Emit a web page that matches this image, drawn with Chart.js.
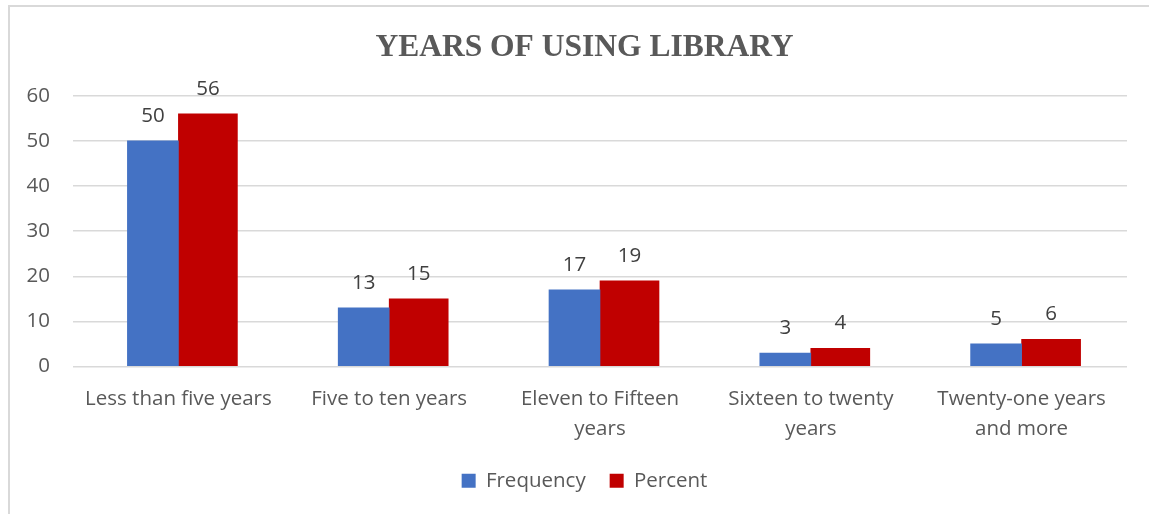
<!DOCTYPE html>
<html>
<head>
<meta charset="utf-8">
<title>Years of Using Library</title>
<script src="https://cdn.jsdelivr.net/npm/chart.js@4.4.1/dist/chart.umd.min.js"></script>
<style>
  html, body { margin: 0; padding: 0; background: #ffffff; }
  #wrap { position: relative; width: 1149px; height: 514px; }
</style>
</head>
<body>
<div id="wrap"><canvas id="chart" width="1149" height="514"></canvas></div>
<script>
// Survey: how long respondents have been using the library
const categories = [
  "Less than five years",
  ["Five to ten years"],
  ["Eleven to Fifteen", "years"],
  ["Sixteen to twenty", "years"],
  ["Twenty-one years", "and more"]
];
const frequency = [50, 13, 17, 3, 5];
const percent = [56, 15, 19, 4, 6];
const yTicks = [0, 10, 20, 30, 40, 50, 60];

const textGrey = "#595959";
const gridGrey = "#d9d9d9";
const bodyFont = "'Open Sans', 'Noto Sans', sans-serif";

// Light frame along the left and top edges of the chart
const framePlugin = {
  id: "frame",
  beforeDraw(chart) {
    const ctx = chart.ctx;
    ctx.save();
    ctx.fillStyle = "#ffffff";
    ctx.fillRect(0, 0, chart.width, chart.height);
    ctx.strokeStyle = gridGrey;
    ctx.lineWidth = 2;
    ctx.beginPath();
    ctx.moveTo(9, chart.height);
    ctx.lineTo(9, 6);
    ctx.lineTo(chart.width, 6);
    ctx.stroke();
    ctx.restore();
  }
};

// Value labels above each bar, placed from the bar elements
const valueLabels = {
  id: "valueLabels",
  afterDatasetsDraw(chart) {
    const ctx = chart.ctx;
    ctx.save();
    ctx.font = "20.5px " + bodyFont;
    ctx.fillStyle = "#404040";
    ctx.textAlign = "center";
    ctx.textBaseline = "middle";
    chart.data.datasets.forEach((ds, di) => {
      const meta = chart.getDatasetMeta(di);
      meta.data.forEach((bar, i) => {
        ctx.fillText(String(ds.data[i]), bar.x, bar.y - 25);
      });
    });
    ctx.restore();
  }
};

new Chart(document.getElementById("chart"), {
  type: "bar",
  data: {
    labels: categories,
    datasets: [
      {
        label: "Frequency",
        data: frequency,
        backgroundColor: "#4472c4",
        barThickness: 51
      },
      {
        label: "Percent",
        data: percent,
        backgroundColor: "#c00000",
        barThickness: 59
      }
    ]
  },
  options: {
    responsive: false,
    animation: false,
    layout: { padding: { left: 26, right: 6, top: 0, bottom: 13 } },
    plugins: {
      title: {
        display: true,
        text: "YEARS OF USING LIBRARY",
        color: textGrey,
        font: { family: "'Liberation Serif', 'Times New Roman', serif", size: 31.5, weight: "bold", lineHeight: 1.2 },
        padding: { top: 29, bottom: 29 }
      },
      legend: {
        position: "bottom",
        labels: {
          color: textGrey,
          font: { family: bodyFont, size: 20.5 },
          boxWidth: 14,
          boxHeight: 14,
          padding: 24
        }
      },
      tooltip: { enabled: false }
    },
    scales: {
      x: {
        grid: { display: false, drawTicks: false },
        border: { display: false },
        ticks: {
          color: textGrey,
          font: { family: bodyFont, size: 20.5, lineHeight: 1.46 },
          padding: 18,
          maxRotation: 0,
          autoSkip: false
        },
        afterFit(axis) { axis.height = 80; }
      },
      y: {
        min: 0,
        max: 60,
        afterBuildTicks(axis) { axis.ticks = yTicks.map(v => ({ value: v })); },
        afterFit(axis) { axis.width = 47; },
        grid: { color: gridGrey, lineWidth: 1.5, drawTicks: false },
        border: { display: false },
        ticks: {
          color: textGrey,
          font: { family: bodyFont, size: 20.5 },
          padding: 23
        }
      },
      // empty right-hand margin beside the plot
      yRight: {
        position: "right",
        display: true,
        grid: { display: false, drawTicks: false },
        border: { display: false },
        ticks: { display: false },
        afterFit(axis) { axis.width = 16; }
      }
    }
  },
  plugins: [framePlugin, valueLabels]
});
</script>
</body>
</html>
